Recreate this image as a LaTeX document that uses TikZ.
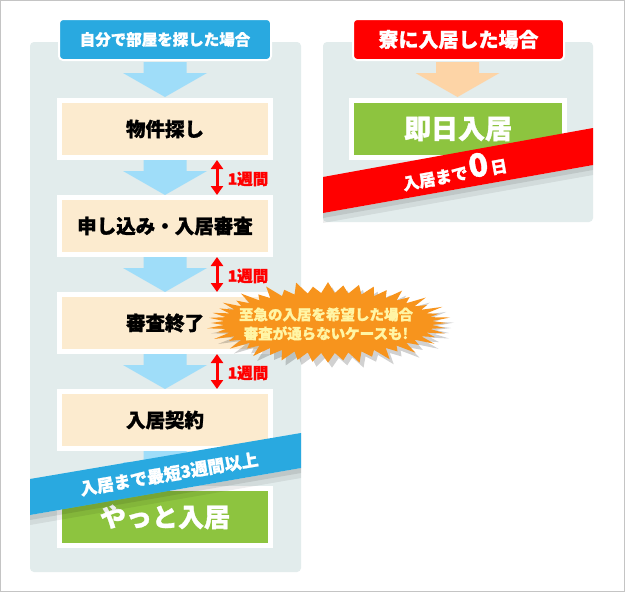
\documentclass[tikz,border=0pt]{standalone}
\usepackage{fontspec}
\newfontfamily\jp{Noto Sans CJK JP}[BoldFeatures={FakeBold=1.2}]
\usetikzlibrary{arrows.meta,calc}
\definecolor{framegray}{HTML}{C4C4C4}
\definecolor{panelbg}{HTML}{E2ECEC}
\definecolor{titleblue}{HTML}{29A9E0}
\definecolor{arrowblue}{HTML}{9FDDF9}
\definecolor{boxfill}{HTML}{FCEBCF}
\definecolor{leafgreen}{HTML}{8DC43F}
\definecolor{brightred}{HTML}{FF0000}
\definecolor{arroworange}{HTML}{FDD4A6}
\definecolor{burstorange}{HTML}{F7941D}
\definecolor{bursttext}{HTML}{FFF5A5}
\newcommand\flowarrow[3]{%
  \fill[#3] (#1-21.5,#2) -- (#1+21.5,#2) -- (#1+21.5,#2+11) -- (#1+42,#2+11)
    -- (#1,#2+35) -- (#1-42,#2+11) -- (#1-21.5,#2+11) -- cycle;}
\newcommand\burstplot{plot[samples at={0,...,95}, variable=\k]
  ({(mod(\k,2)==0 ? 119*(1+0.04*sin(\k*97)) : 104)*cos(\k*3.75)},
   {(mod(\k,2)==0 ? 39*(1+0.08*sin(\k*97)) : 30)*sin(\k*3.75)}) -- cycle}
\begin{document}
\begin{tikzpicture}[x=1pt,y=-1pt,
  titlebox/.style={draw=white, line width=2pt, rounded corners=4pt, text=white,
    minimum height=41pt, inner sep=0pt},
  stepbox/.style={draw=white, line width=5pt, fill=boxfill, minimum width=211pt,
    minimum height=57pt, inner sep=0pt, text=black,
    font={\jp\bfseries\fontsize{19.5}{19.5}\selectfont}},
  dbl/.style={draw=brightred, line width=3pt,
    {Triangle[width=12pt,length=9pt]}-{Triangle[width=12pt,length=9pt]}},
  weeklabel/.style={text=brightred, inner sep=0pt,
    font={\jp\bfseries\fontsize{15.5}{15.5}\selectfont}},
  bandtext/.style={text=white, inner sep=0pt},
]
\useasboundingbox (0,0) rectangle (625,592);
\fill[white] (0,0) rectangle (625,592);
\draw[framegray, line width=1pt] (0.5,0.5) rectangle (624.5,591.5);

% panels
\fill[panelbg, rounded corners=4pt] (30,42) rectangle (301,572);
\fill[panelbg, rounded corners=4pt] (323,42) rectangle (593,222);

% titles
\node[titlebox, fill=titleblue, minimum width=212pt,
  font={\jp\bfseries\fontsize{15.5}{15.5}\selectfont}] (t1) at (165,39.5) {自分で部屋を探した場合};
\node[titlebox, fill=brightred, minimum width=211pt,
  font={\jp\bfseries\fontsize{20}{20}\selectfont}] (t2) at (458.5,39.5) {寮に入居した場合};

% left flow
\flowarrow{165}{62}{arrowblue}
\flowarrow{165}{160}{arrowblue}
\flowarrow{165}{257}{arrowblue}
\flowarrow{165}{354}{arrowblue}
\flowarrow{165}{451}{arrowblue}

\node[stepbox] (s1) at (165,129) {物件探し};
\node[stepbox] (s2) at (165,226) {申し込み・入居審査};
\node[stepbox] (s3) at (165,323) {審査終了};
\node[stepbox] (s4) at (165,420) {入居契約};
\node[stepbox, fill=leafgreen, text=white,
  font={\jp\bfseries\fontsize{26}{26}\selectfont}] (s5) at (165,517) {やっと入居};

\coordinate (ax) at (217,0);
\draw[dbl] (s1.south -| ax) -- (s2.north -| ax);
\draw[dbl] (s2.south -| ax) -- (s3.north -| ax);
\draw[dbl] (s3.south -| ax) -- (s4.north -| ax);
\node[weeklabel] (w1) at (248,179) {1週間};
\node[weeklabel] (w2) at (248,276) {1週間};
\node[weeklabel] (w3) at (248,373) {1週間};

% blue band
\fill[black, opacity=0.07] (30,515) -- (301,468) -- (301,478) -- (30,525) -- cycle;
\fill[black, opacity=0.09] (30,515) -- (301,468) -- (301,473) -- (30,520) -- cycle;
\fill[titleblue] (30,479) -- (301,433) -- (301,468) -- (30,515) -- cycle;
\node[bandtext, rotate=9.6, font={\jp\bfseries\fontsize{17}{17}\selectfont}]
  (b1) at (169,474) {入居まで最短3週間以上};

% right flow
\flowarrow{457.5}{62}{arroworange}
\node[stepbox, fill=leafgreen, text=white, minimum width=213pt,
  font={\jp\bfseries\fontsize{27}{27}\selectfont}] (g1) at (458,129) {即日入居};
\fill[black, opacity=0.07] (323,213) -- (593,165) -- (593,175) -- (323,223) -- cycle;
\fill[black, opacity=0.09] (323,213) -- (593,165) -- (593,170) -- (323,218) -- cycle;
\fill[brightred] (323,177) -- (593,128) -- (593,165) -- (323,213) -- cycle;
\node[bandtext, rotate=10.3] (b2) at (454,170)
  {\jp\bfseries\fontsize{16.5}{16.5}\selectfont 入居まで\kern2pt\fontsize{32}{16.5}\selectfont 0\kern2pt\fontsize{16.5}{16.5}\selectfont 日};

% starburst
\fill[black, opacity=0.18, shift={(332,328)}] \burstplot;
\fill[burstorange, shift={(328,323)}] \burstplot;
\node[text=bursttext, align=center, inner sep=0pt,
  font={\jp\bfseries\fontsize{14.5}{19}\selectfont}] (n1) at (326,324)
  {至急の入居を希望した場合\\審査が通らないケースも!};
\end{tikzpicture}
\end{document}
